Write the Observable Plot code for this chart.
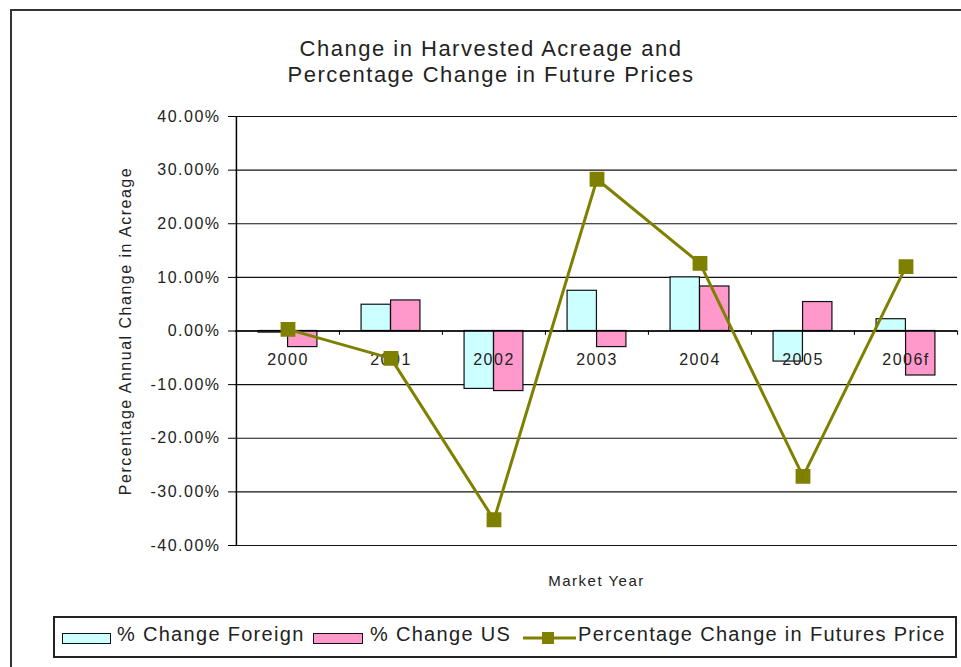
<!DOCTYPE html>
<html>
<head>
<meta charset="utf-8">
<script src="https://cdn.jsdelivr.net/npm/d3@7"></script>
<script src="https://cdn.jsdelivr.net/npm/@observablehq/plot@0.6"></script>
<style>
  html, body { margin: 0; padding: 0; background: #fff; overflow: hidden; }
  body { font-family: "Liberation Sans", Arial, sans-serif; color: #222; }
  #wrap { position: relative; width: 961px; height: 667px; overflow: hidden; background: #fff; }
  #border { position: absolute; left: 10px; top: 9px; width: 1000px; height: 720px; border: 2px solid #333; box-sizing: border-box; }
  #chart { position: absolute; left: 0; top: 0; }
  #title { position: absolute; left: 0; top: 36px; width: 982px; text-align: center; font-size: 22px; line-height: 26px; letter-spacing: 1.5px; color: #222; }
  #legend { position: absolute; left: 53px; top: 616px; width: 904px; height: 42px; border: 2px solid #222; box-sizing: border-box; }
  .lg { position: absolute; font-size: 20px; line-height: 20px; letter-spacing: 1.3px; color: #222; white-space: nowrap; }
  .sw { position: absolute; border: 1.5px solid #111; box-sizing: border-box; }
</style>
</head>
<body>
<div id="wrap">
  <div id="border"></div>
  <div id="chart"></div>
  <div id="title"></div>
  <div id="legend"></div>
</div>
<script>
// ---- data ----
const titleLines = ["Change in Harvested Acreage and", "Percentage Change in Future Prices"];
const years = ["2000", "2001", "2002", "2003", "2004", "2005", "2006f"];
const foreignChange = [-0.003, 0.049, -0.108, 0.075, 0.100, -0.057, 0.022];
const usChange = [-0.030, 0.057, -0.112, -0.030, 0.083, 0.054, -0.083];
const futuresChange = [0.003, -0.051, -0.352, 0.283, 0.126, -0.271, 0.120];
const yTicks = [-0.4, -0.3, -0.2, -0.1, 0, 0.1, 0.2, 0.3, 0.4];
const seriesNames = ["% Change Foreign", "% Change US", "Percentage Change in Futures Price"];
const yLabel = "Percentage Annual Change in Acreage";
const xLabel = "Market Year";

// ---- styles ----
const foreignColor = "#ccffff";
const usColor = "#ff99cc";
const lineColor = "#808000";

const rows = years.map((year, i) => ({year, foreign: foreignChange[i], us: usChange[i], futures: futuresChange[i]}));

const width = 961, height = 667;
const mL = 235, mR = 4, mT = 116, mB = 122;
const bw = (width - mL - mR) / years.length;
const barW = 29.5;

const fmt = d => (d * 100).toFixed(2) + "%";

const chart = Plot.plot({
  width, height,
  marginLeft: mL, marginRight: mR, marginTop: mT, marginBottom: mB,
  style: {fontFamily: "Liberation Sans, Arial, sans-serif", fontSize: "16px", letterSpacing: "1.5px", color: "#222", background: "transparent", overflow: "visible"},
  x: {type: "band", domain: years, padding: 0, axis: null},
  y: {domain: [-0.4, 0.4], axis: null},
  marks: [
    Plot.gridY(yTicks, {stroke: "#111", strokeOpacity: 1, strokeWidth: 1.2}),
    Plot.barY(rows, {x: "year", y1: () => 0, y2: "foreign", fill: foreignColor, stroke: "#111", strokeWidth: 1.2,
      insetLeft: bw / 2 - barW, insetRight: bw / 2}),
    Plot.barY(rows, {x: "year", y1: () => 0, y2: "us", fill: usColor, stroke: "#111", strokeWidth: 1.2,
      insetLeft: bw / 2, insetRight: bw / 2 - barW}),
    Plot.ruleY([0], {stroke: "#000", strokeWidth: 1.5}),
    Plot.ruleX(years, {x: d => d, y1: () => 0, y2: () => -0.008, dx: -bw / 2, stroke: "#000"}),
    Plot.ruleX([years[years.length - 1]], {x: d => d, y1: () => 0, y2: () => -0.008, dx: bw / 2, stroke: "#000"}),
    Plot.ruleX([years[0]], {x: d => d, y1: () => -0.4, y2: () => 0.4, dx: -bw / 2, stroke: "#000", strokeWidth: 1.5}),
    Plot.axisY(yTicks, {tickFormat: fmt, tickSize: 7, tickPadding: 8, stroke: "#000", fontSize: 16, label: null}),
    Plot.text(years, {x: d => d, y: () => 0, dy: 29, fontSize: 16, fill: "#222"}),
    Plot.line(rows, {x: "year", y: "futures", stroke: lineColor, strokeWidth: 3}),
    Plot.dot(rows, {x: "year", y: "futures", symbol: "square", r: 7.5, fill: lineColor, stroke: lineColor}),
    Plot.text([yLabel], {frameAnchor: "left", rotate: -90, dx: -110, textAnchor: "middle", lineAnchor: "middle", fontSize: 16, fill: "#222"}),
    Plot.text([xLabel], {frameAnchor: "bottom", dy: 36, textAnchor: "middle", lineAnchor: "middle", fontSize: 15, fill: "#222"})
  ]
});
document.getElementById("chart").appendChild(chart);

// ---- title ----
document.getElementById("title").innerHTML = titleLines.map(t => `<div>${t}</div>`).join("");

// ---- legend ----
const lg = document.getElementById("legend");
const ox = 55, oy = 618; // legend inner origin (page coords)
function add(html) { lg.insertAdjacentHTML("beforeend", html); }
add(`<div class="sw" style="left:${62-ox}px;top:${633-oy}px;width:49px;height:11px;background:${foreignColor}"></div>`);
add(`<div class="lg" style="left:${117-ox}px;top:${624-oy}px">${seriesNames[0]}</div>`);
add(`<div class="sw" style="left:${313-ox}px;top:${633-oy}px;width:50px;height:11px;background:${usColor}"></div>`);
add(`<div class="lg" style="left:${370-ox}px;top:${624-oy}px">${seriesNames[1]}</div>`);
add(`<svg style="position:absolute;left:${523-ox}px;top:${628-oy}px" width="54" height="20">
  <line x1="0" y1="10" x2="53" y2="10" stroke="${lineColor}" stroke-width="3"/>
  <rect x="19" y="4" width="12" height="12" fill="${lineColor}"/></svg>`);
add(`<div class="lg" style="left:${578-ox}px;top:${624-oy}px">${seriesNames[2]}</div>`);
</script>
</body>
</html>
